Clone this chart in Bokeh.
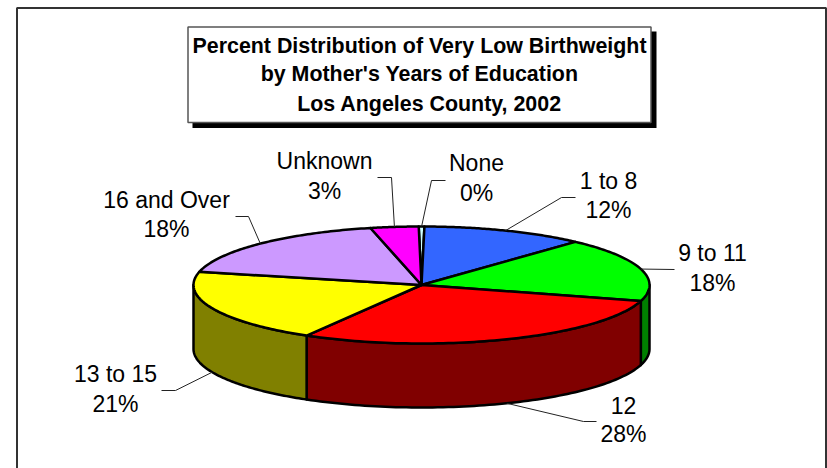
import numpy as np
from bokeh.plotting import figure
from bokeh.models import Range1d
from bokeh.embed import file_html
from bokeh.resources import INLINE
from bokeh.core.properties import value

categories = ["None", "1 to 8", "9 to 11", "12", "13 to 15", "16 and Over", "Unknown"]
pct_labels = ["0%", "12%", "18%", "28%", "21%", "18%", "3%"]
shares = [0.4, 11.6, 17.6, 29.0, 20.2, 17.8, 3.4]
top_colors = ["#CCFFFF", "#3366FF", "#00FF00", "#FF0000", "#FFFF00", "#CC99FF", "#FF00FF"]
side_colors = ["#668080", "#1A3380", "#008000", "#800000", "#808000", "#664D80", "#800080"]
title_lines = ["Percent Distribution of Very Low Birthweight",
               "by Mother's Years of Education",
               "Los Angeles County, 2002"]

# layout (page pixels)
CX, CY, RX, RY, DEPTH, START = 421.0, 284.5, 228.0, 58.5, 64.0, -0.7
label_x = [476, 608, 712, 623, 115, 166, 324]
label_y = [162.5, 180.5, 252.5, 404.5, 373.5, 199.5, 160.5]
pct_y   = [192.5, 209.5, 282.5, 433.5, 403.5, 228.5, 190.5]
knees = [[(445, 180), (431, 180)], [(575, 197), (561, 197)], [(674, 269)],
         [(596, 421), (583, 421)], [(161, 390), (175, 390)],
         [(235, 216), (248, 216)], [(377, 177), (391, 177)]]
title_x = [419, 419, 429]
title_y = [45, 73, 103]

p = figure(width=827, height=468, output_backend="svg", toolbar_location=None,
           x_range=Range1d(0, 827), y_range=Range1d(468, 0),
           min_border=0, outline_line_color=None)
p.xaxis.visible = False
p.yaxis.visible = False
p.grid.visible = False
p.background_fill_color = "white"
p.border_fill_color = "white"

def ell(t):
    r = np.radians(t)
    return CX + RX * np.sin(r), CY - RY * np.cos(r)

# outer frame, cropped by the picture at right and bottom
p.line([16.5, 16.5, 825.5, 825.5], [470, 7.5, 7.5, 470], line_color="#333333", line_width=2)

# title box
p.quad(left=192, right=656, top=31, bottom=127.5, fill_color="black", line_color=None)
p.quad(left=187.5, right=650.5, top=26.5, bottom=122, fill_color="white",
       line_color="#555555", line_width=1.5)
p.text(title_x, title_y, text=title_lines, text_font=value("Liberation Sans"),
       text_font_style="bold", text_font_size="21.4px", text_color="black",
       text_align="center", text_baseline="middle")

edges = START + np.cumsum([0] + shares) * 3.6

# side walls
for a, b, col in zip(edges[:-1], edges[1:], side_colors):
    lo, hi = max(a, 90), min(b, 270)
    if hi <= lo:
        continue
    t = np.linspace(lo, hi, 80)
    x, y = ell(t)
    p.patch(np.r_[x, x[::-1]], np.r_[y, y[::-1] + DEPTH], fill_color=col,
            line_color="black", line_width=2.5, line_join="round")

# top faces
for a, b, col in zip(edges[:-1], edges[1:], top_colors):
    t = np.linspace(a, b, 80)
    x, y = ell(t)
    p.patch(np.r_[CX, x], np.r_[CY, y], fill_color=col,
            line_color="black", line_width=2.5, line_join="round")

# leader lines
mids = (edges[:-1] + edges[1:]) / 2
for m, k in zip(mids, knees):
    ax, ay = ell(m)
    if 90 < m < 270:
        ay += DEPTH
    xs = [q[0] for q in k] + [ax]
    ys = [q[1] for q in k] + [ay]
    p.line(xs, ys, line_color="#222222", line_width=1)

font = value("Liberation Sans")
p.text(label_x, label_y, text=categories, text_font=font, text_font_size="23px",
       text_color="black", text_align="center", text_baseline="middle")
p.text(label_x, pct_y, text=pct_labels, text_font=font, text_font_size="23px",
       text_color="black", text_align="center", text_baseline="middle")

open("out.html", "w").write(file_html(p, INLINE))
